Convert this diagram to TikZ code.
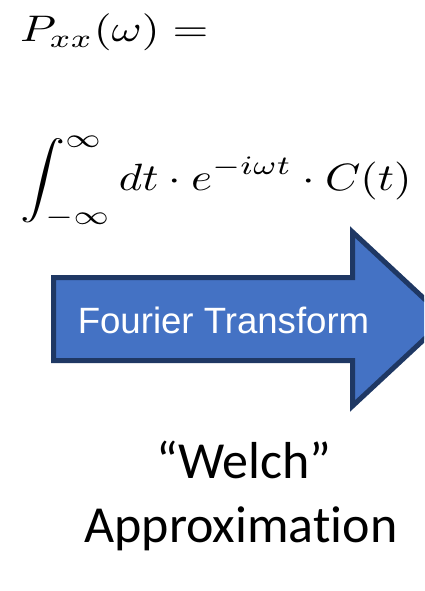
\documentclass[tikz,border=0pt]{standalone}
\usepackage{fontspec}
\usepackage{amsmath}
\newfontfamily\arialfont{Liberation Sans}
\newfontfamily\calibrifont[Ligatures=NoCommon]{Carlito}
\definecolor{arrowfill}{HTML}{4472C4}
\definecolor{arrowline}{HTML}{1F3864}

\begin{document}
\begin{tikzpicture}[x=1pt,y=-1pt,
  eqn/.style={anchor=base west,inner sep=0pt},
  label/.style={anchor=base,inner sep=0pt,font=\calibrifont\fontsize{52}{60}\selectfont}]
\useasboundingbox (0,0) rectangle (424,591);
\clip (0,0) rectangle (424,591);
% ---------- formula ----------
\node[eqn] (pxx) at (20,42) {\scalebox{4.6}[3.7]{$P_{xx}(\omega) =$}};
\node[eqn] (integral) at (20,190) {\scalebox{4.5}[3.8]{$\displaystyle\int_{-\infty}^{\infty} dt \cdot e^{-i\omega t} \cdot C(t)$}};
% ---------- arrow ----------
\draw[line width=5pt,draw=arrowline,fill=arrowfill,line join=miter]
  (53.5,277.5) -- (352.5,277.5) -- (352.5,232) -- (446,319)
  -- (352.5,406) -- (352.5,360.5) -- (53.5,360.5) -- cycle;
\node[anchor=base,inner sep=0pt,text=white,font=\arialfont\fontsize{36.6}{44}\selectfont]
  (fourier) at (223.5,333) {Fourier Transform};
% ---------- caption ----------
\node[label] (welch) at (244,478) {“Welch”};
\node[label] (approx) at (241,542) {Approximation};
\end{tikzpicture}
\end{document}
